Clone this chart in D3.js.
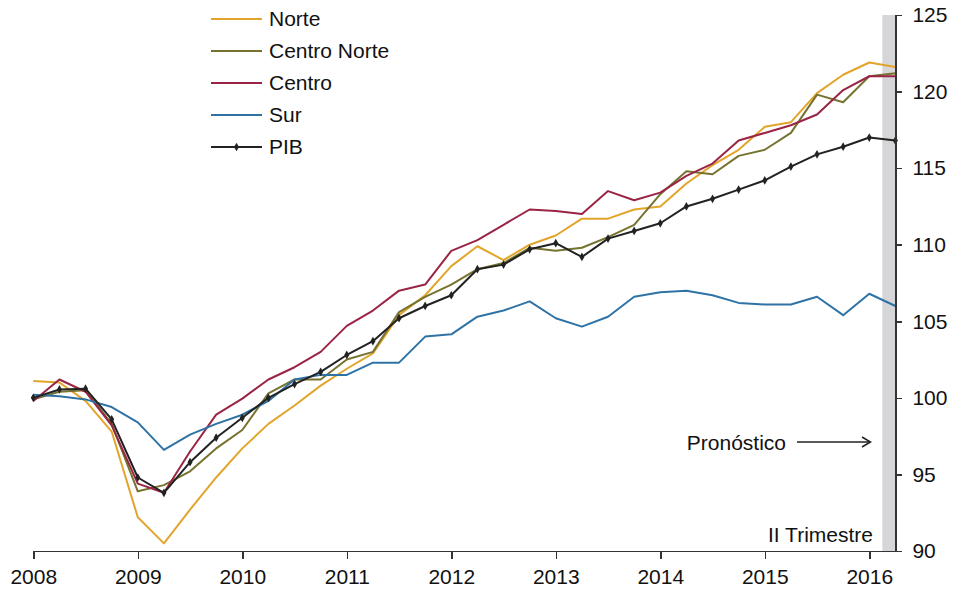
<!DOCTYPE html>
<html lang="es">
<head>
<meta charset="UTF-8">
<title>PIB regional</title>
<script src="https://cdn.jsdelivr.net/npm/d3@7"></script>
<style>
  body { margin: 0; background: #fff; }
  svg text { font-family: "Liberation Sans", Arial, Helvetica, sans-serif; fill: #111; }
  .axis path, .axis line { stroke: #333; stroke-width: 1.5px; shape-rendering: crispEdges; }
  .axis text { font-size: 21px; }
  .serie { fill: none; stroke-width: 2px; stroke-linejoin: round; }
</style>
</head>
<body>
<script>
// trimestres 2008 T1 .. 2016 T2
var trimestres = d3.range(34).map(function(i) { return 2008 + i / 4; });
var anios = [2008, 2009, 2010, 2011, 2012, 2013, 2014, 2015, 2016];
var ticksY = [90, 95, 100, 105, 110, 115, 120, 125];

var norte = [101.1, 101.0, 99.8, 97.8, 92.2, 90.5, 92.7, 94.8, 96.7, 98.3, 99.5, 100.8,
  101.9, 102.9, 105.4, 106.7, 108.6, 109.9, 109.0, 110.0, 110.6, 111.7, 111.7, 112.3,
  112.5, 114.0, 115.2, 116.2, 117.7, 118.0, 119.9, 121.1, 121.9, 121.6];
var centroNorte = [99.9, 100.4, 100.5, 98.3, 93.9, 94.3, 95.2, 96.7, 97.9, 100.3, 101.2, 101.2,
  102.5, 103.0, 105.6, 106.6, 107.4, 108.4, 108.8, 109.8, 109.6, 109.8, 110.5, 111.3,
  113.3, 114.8, 114.6, 115.8, 116.2, 117.3, 119.8, 119.3, 121.0, 121.2];
var centro = [99.8, 101.2, 100.4, 98.2, 94.4, 93.8, 96.5, 98.9, 99.95, 101.2, 102.0, 103.0,
  104.7, 105.7, 107.0, 107.4, 109.6, 110.3, 111.3, 112.3, 112.2, 112.0, 113.5, 112.9,
  113.4, 114.5, 115.3, 116.8, 117.3, 117.8, 118.5, 120.1, 121.0, 121.0];
var sur = [100.2, 100.1, 99.9, 99.4, 98.4, 96.6, 97.6, 98.3, 98.9, 99.8, 101.2, 101.5,
  101.5, 102.3, 102.3, 104.0, 104.15, 105.3, 105.7, 106.3, 105.2, 104.65, 105.3, 106.6,
  106.9, 107.0, 106.7, 106.2, 106.1, 106.1, 106.6, 105.4, 106.8, 106.0];
var pib = [100.0, 100.55, 100.6, 98.6, 94.8, 93.8, 95.8, 97.4, 98.7, 100.0, 100.9, 101.7,
  102.8, 103.7, 105.2, 106.0, 106.7, 108.4, 108.7, 109.7, 110.1, 109.2, 110.4, 110.9,
  111.4, 112.5, 113.0, 113.6, 114.2, 115.1, 115.9, 116.4, 117.0, 116.8];

var series = [
  { nombre: "Norte", valores: norte, color: "#E2A52B", marcas: false },
  { nombre: "Centro Norte", valores: centroNorte, color: "#76722F", marcas: false },
  { nombre: "Centro", valores: centro, color: "#9A2444", marcas: false },
  { nombre: "Sur", valores: sur, color: "#2F73A6", marcas: false },
  { nombre: "PIB", valores: pib, color: "#222222", marcas: true }
];

var width = 954, height = 591;

var svg = d3.select("body").append("svg")
  .attr("width", width)
  .attr("height", height);

var x = d3.scaleLinear().domain([2008, 2016.25]).range([33.3, 895.4]);
var y = d3.scaleLinear().domain([90, 125]).range([551, 15]);

// franja de pronóstico
svg.append("rect")
  .attr("x", x(2016.125))
  .attr("y", y(125))
  .attr("width", x(2016.25) - x(2016.125))
  .attr("height", y(90) - y(125))
  .attr("fill", "#D6D6D8");

var linea = d3.line()
  .x(function(d, i) { return x(trimestres[i]); })
  .y(function(d) { return y(d); });

var g = svg.selectAll(".grupo")
  .data(series)
  .enter().append("g")
  .attr("class", "grupo");

g.append("path")
  .attr("class", "serie")
  .attr("d", function(d) { return linea(d.valores); })
  .attr("stroke", function(d) { return d.color; });

var diamante = d3.symbol().type(d3.symbolDiamond).size(22);

g.filter(function(d) { return d.marcas; })
  .selectAll(".marca")
  .data(function(d) { return d.valores.map(function(v, i) { return { v: v, i: i, color: d.color }; }); })
  .enter().append("path")
  .attr("class", "marca")
  .attr("d", diamante)
  .attr("fill", function(d) { return d.color; })
  .attr("transform", function(d) { return "translate(" + x(trimestres[d.i]) + "," + y(d.v) + ")"; });

// ejes
svg.append("g")
  .attr("class", "axis")
  .attr("transform", "translate(0," + y(90) + ")")
  .call(d3.axisBottom(x).tickValues(anios).tickFormat(d3.format("d")).tickSize(8).tickSizeOuter(0).tickPadding(10));

svg.append("g")
  .attr("class", "axis")
  .attr("transform", "translate(" + x(2016.25) + ",0)")
  .call(d3.axisRight(y).tickValues(ticksY).tickSize(7).tickSizeOuter(0).tickPadding(10));

svg.selectAll(".axis .domain").attr("stroke", "#333");

// leyenda
var leyenda = svg.append("g").attr("transform", "translate(211,19)");
var fila = leyenda.selectAll("g")
  .data(series)
  .enter().append("g")
  .attr("transform", function(d, i) { return "translate(0," + i * 32 + ")"; });

fila.append("line")
  .attr("x1", 0).attr("x2", 51)
  .attr("stroke", function(d) { return d.color; })
  .attr("stroke-width", 2);

fila.filter(function(d) { return d.marcas; })
  .append("path")
  .attr("d", diamante)
  .attr("fill", function(d) { return d.color; })
  .attr("transform", "translate(25.5,0)");

fila.append("text")
  .attr("x", 58)
  .attr("dy", "0.35em")
  .attr("font-size", "21px")
  .text(function(d) { return d.nombre; });

// anotaciones
svg.append("text")
  .attr("x", 786).attr("y", 450)
  .attr("text-anchor", "end")
  .attr("font-size", "21px")
  .text("Pronóstico");

svg.append("line")
  .attr("x1", 797).attr("x2", 870)
  .attr("y1", 442).attr("y2", 442)
  .attr("stroke", "#222").attr("stroke-width", 1.5);

svg.append("path")
  .attr("d", "M862,437 L870.5,442 L862,447")
  .attr("fill", "none")
  .attr("stroke", "#222").attr("stroke-width", 1.5);

svg.append("text")
  .attr("x", 873).attr("y", 541.5)
  .attr("text-anchor", "end")
  .attr("font-size", "21px")
  .text("II Trimestre");
</script>
</body>
</html>
